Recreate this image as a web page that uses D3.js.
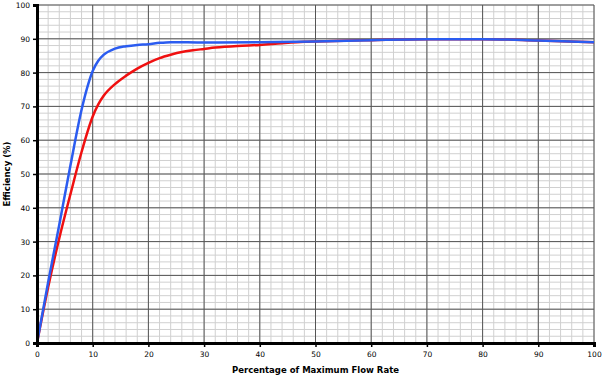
<!DOCTYPE html>
<html>
<head>
<meta charset="utf-8">
<script src="https://cdn.jsdelivr.net/npm/d3@7"></script>
<style>
  body { margin: 0; background: #fff; }
  text { font-family: "DejaVu Sans", Verdana, sans-serif; }
</style>
</head>
<body>
<svg id="chart"></svg>
<script>
// flow rate (% of max) and efficiency (%) readings
const flowBlue = [0, 2, 4, 6, 8, 9, 10, 11, 12, 14, 16, 18, 20, 22, 24, 30, 40, 50, 60, 70, 80, 90, 100];
const effBlue  = [0, 18, 35, 52.5, 69, 75.5, 80.5, 83.5, 85.3, 87.1, 87.8, 88.2, 88.4, 88.8, 89.0, 88.9, 89.0, 89.2, 89.6, 89.9, 89.9, 89.5, 89.0];

const flowRed = [0, 2, 4, 6, 8, 10, 11, 12, 14, 16, 18, 20, 22, 24, 26, 28, 30, 32, 36, 40, 44, 48, 50, 60, 70, 80, 90, 100];
const effRed  = [0, 16.5, 31, 44, 56.5, 67, 70.6, 73.2, 76.6, 79.1, 81.2, 82.9, 84.3, 85.3, 86.1, 86.6, 87.0, 87.4, 87.9, 88.2, 88.7, 89.1, 89.2, 89.6, 89.9, 89.9, 89.5, 89.0];

const xTicks = d3.range(0, 101, 10);
const yTicks = d3.range(0, 101, 10);
const minorTicks = d3.range(0, 101, 2);

const svgWidth = 602, svgHeight = 378;
const margin = { top: 5, right: 8, bottom: 35, left: 37 };
const width = svgWidth - margin.left - margin.right;
const height = svgHeight - margin.top - margin.bottom;

const svg = d3.select("#chart")
  .attr("width", svgWidth)
  .attr("height", svgHeight)
  .append("g")
  .attr("transform", `translate(${margin.left},${margin.top})`);

const x = d3.scaleLinear().domain([0, 100]).range([0, width]);
const y = d3.scaleLinear().domain([0, 100]).range([height, 0]);

// minor grid
svg.append("g").selectAll("line")
  .data(minorTicks).enter().append("line")
  .attr("x1", d => x(d)).attr("x2", d => x(d))
  .attr("y1", 0).attr("y2", height)
  .attr("stroke", "#d0d0d0").attr("stroke-width", 1);
svg.append("g").selectAll("line")
  .data(minorTicks).enter().append("line")
  .attr("y1", d => y(d)).attr("y2", d => y(d))
  .attr("x1", 0).attr("x2", width)
  .attr("stroke", "#d0d0d0").attr("stroke-width", 1);

// major grid
svg.append("g").selectAll("line")
  .data(xTicks).enter().append("line")
  .attr("x1", d => x(d)).attr("x2", d => x(d))
  .attr("y1", 0).attr("y2", height)
  .attr("stroke", "#555").attr("stroke-width", 1);
svg.append("g").selectAll("line")
  .data(yTicks).enter().append("line")
  .attr("y1", d => y(d)).attr("y2", d => y(d))
  .attr("x1", 0).attr("x2", width)
  .attr("stroke", "#555").attr("stroke-width", 1);

// curves (red under blue)
const line = d3.line()
  .x(d => x(d[0]))
  .y(d => y(d[1]))
  .curve(d3.curveMonotoneX);

svg.append("path")
  .datum(d3.zip(flowRed, effRed))
  .attr("d", line)
  .attr("fill", "none")
  .attr("stroke", "#f01010")
  .attr("stroke-width", 2.5);

svg.append("path")
  .datum(d3.zip(flowBlue, effBlue))
  .attr("d", line)
  .attr("fill", "none")
  .attr("stroke", "#2b5cf0")
  .attr("stroke-width", 2.5);

// axes
const xAxis = svg.append("g")
  .attr("transform", `translate(0,${height})`)
  .call(d3.axisBottom(x).tickValues(xTicks).tickSize(4).tickPadding(5));
const yAxis = svg.append("g")
  .call(d3.axisLeft(y).tickValues(yTicks).tickSize(4).tickPadding(3));

[xAxis, yAxis].forEach(g => {
  g.select(".domain").attr("stroke", "#000").attr("stroke-width", 3);
  g.selectAll(".tick line").attr("stroke", "#000").attr("stroke-width", 1.5);
  g.selectAll(".tick text").style("font-size", "7.5px").attr("fill", "#000");
});

// axis titles
svg.append("text")
  .attr("x", width / 2)
  .attr("y", height + 30)
  .attr("text-anchor", "middle")
  .style("font-size", "8.5px")
  .style("font-weight", "bold")
  .text("Percentage of Maximum Flow Rate");

svg.append("text")
  .attr("transform", `translate(${-27},${height / 2}) rotate(-90)`)
  .attr("text-anchor", "middle")
  .style("font-size", "8.5px")
  .style("font-weight", "bold")
  .text("Efficiency (%)");
</script>
</body>
</html>
